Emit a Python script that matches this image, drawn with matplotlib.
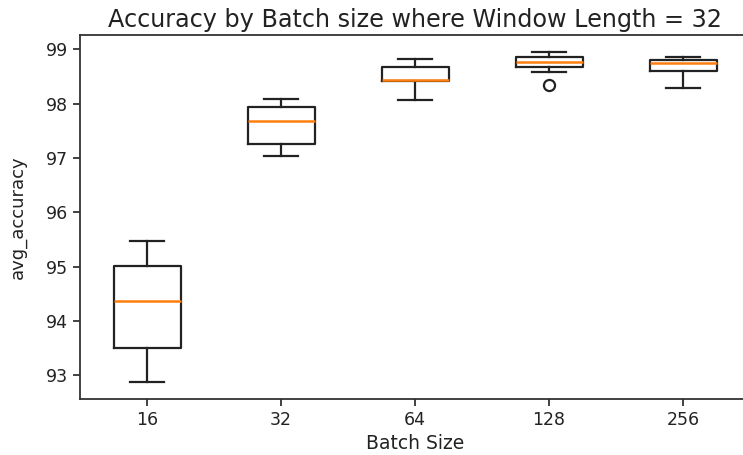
import matplotlib
matplotlib.use("Agg")
import matplotlib.pyplot as plt

# box statistics
batch_sizes = ["16", "32", "64", "128", "256"]
whisker_low = [92.87, 97.04, 98.06, 98.58, 98.28]
q1 = [93.50, 97.26, 98.41, 98.67, 98.60]
medians = [94.37, 97.69, 98.43, 98.77, 98.74]
q3 = [95.02, 97.94, 98.67, 98.86, 98.80]
whisker_high = [95.48, 98.09, 98.83, 98.96, 98.86]
outliers = [[], [], [], [98.34], []]

stats = []
for i in range(len(batch_sizes)):
    stats.append({
        "label": batch_sizes[i],
        "whislo": whisker_low[i],
        "q1": q1[i],
        "med": medians[i],
        "q3": q3[i],
        "whishi": whisker_high[i],
        "fliers": outliers[i],
    })

lw = 1.6
fig = plt.figure(figsize=(7.43, 4.55), dpi=100)
# the reference is cropped on the right, so the axes run past the canvas
ax = fig.add_axes([80 / 743, 56 / 455, 670 / 743, 364 / 455])
ax.bxp(stats, widths=0.5,
       boxprops={"linewidth": lw, "color": "#222222"},
       whiskerprops={"linewidth": lw, "color": "#222222"},
       capprops={"linewidth": lw, "color": "#222222"},
       medianprops={"color": "C1", "linewidth": 1.8},
       flierprops={"marker": "o", "markersize": 8, "markerfacecolor": "none",
                   "markeredgecolor": "#222222", "markeredgewidth": lw})
ax.set_title("Accuracy by Batch size where Window Length = 32", fontsize=17.2, color="#222222")
ax.set_xlabel("Batch Size", fontsize=13.5, color="#222222")
ax.set_ylabel("avg_accuracy", fontsize=13, color="#222222")
ax.yaxis.set_label_coords(-0.080, 0.5)
ax.spines["right"].set_visible(False)
for s in ["left", "top", "bottom"]:
    ax.spines[s].set_linewidth(1.3)
    ax.spines[s].set_color("#333333")
ax.tick_params(labelsize=12.5, width=1.3, length=5, colors="#333333", labelcolor="#222222")

fig.savefig("out.png", dpi=100)
